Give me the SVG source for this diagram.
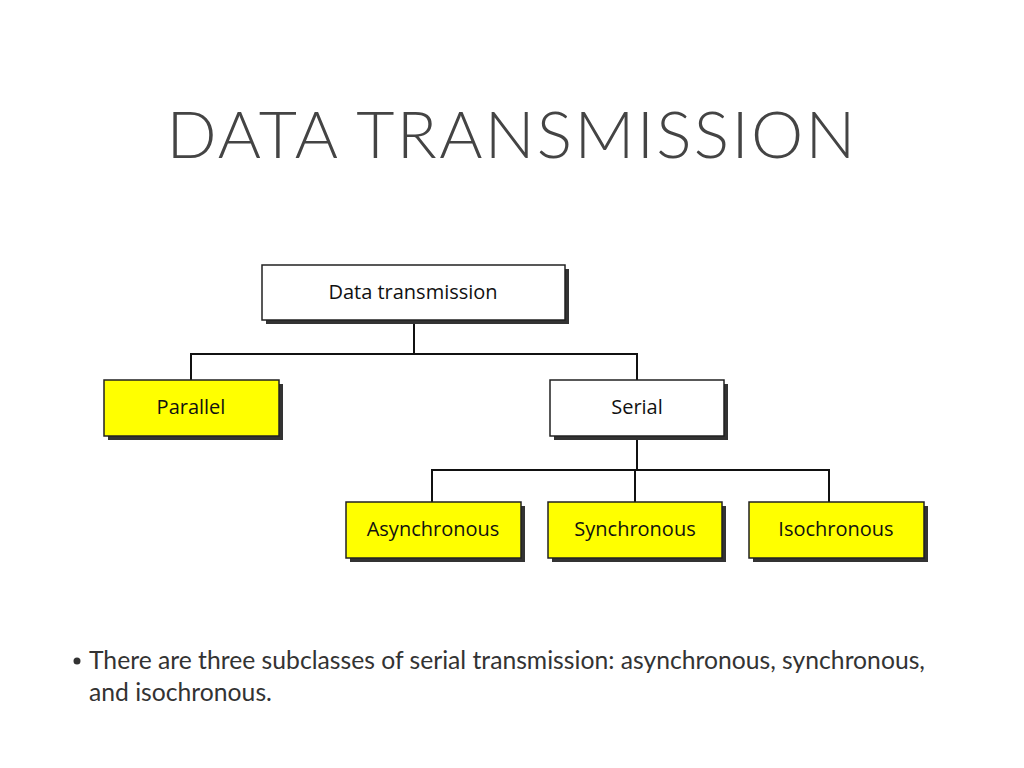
<svg xmlns="http://www.w3.org/2000/svg" width="1024" height="768" viewBox="0 0 1024 768">
<defs><style>
.sh{fill:#333}
.b{stroke:#222;stroke-width:1.5}
.w{fill:#fff}.y{fill:#ffff00}
.t{font-family:"Open Sans","DejaVu Sans",sans-serif;font-size:20px;fill:#111;text-anchor:middle}
.c{stroke:#111;stroke-width:2;fill:none}
</style></defs>
<rect width="1024" height="768" fill="#fff"/>
<text x="512" y="158" font-family="Lato,'Liberation Sans',sans-serif" font-size="66" fill="#444" text-anchor="middle" font-weight="300" letter-spacing="2.3">DATA TRANSMISSION</text>
<g id="connectors">
<path class="c" d="M414 320V354M191 380V354H637V380M637 436V470M432 502V470H829V502M635 470V502"/>
</g>
<g id="n-data"><rect class="sh" x="266" y="269" width="303" height="55"/><rect class="b w" x="262" y="265" width="303" height="55"/><text class="t" x="413" y="299">Data transmission</text></g>
<g id="n-parallel"><rect class="sh" x="108" y="384" width="175" height="56"/><rect class="b y" x="104" y="380" width="175" height="56"/><text class="t" x="191" y="414">Parallel</text></g>
<g id="n-serial"><rect class="sh" x="554" y="384" width="174" height="56"/><rect class="b w" x="550" y="380" width="174" height="56"/><text class="t" x="637" y="414">Serial</text></g>
<g id="n-async"><rect class="sh" x="350" y="506" width="175" height="56"/><rect class="b y" x="346" y="502" width="175" height="56"/><text class="t" x="433" y="536">Asynchronous</text></g>
<g id="n-sync"><rect class="sh" x="552" y="506" width="174" height="56"/><rect class="b y" x="548" y="502" width="174" height="56"/><text class="t" x="635" y="536">Synchronous</text></g>
<g id="n-iso"><rect class="sh" x="753" y="506" width="175" height="56"/><rect class="b y" x="749" y="502" width="175" height="56"/><text class="t" x="836" y="536">Isochronous</text></g>
<g font-family="Lato,'Liberation Sans',sans-serif" font-size="24.7" fill="#333">
<circle cx="77" cy="661" r="3.5" fill="#333"/>
<text x="89" y="669">There are three subclasses of serial transmission: asynchronous, synchronous,</text>
<text x="89" y="701">and isochronous.</text>
</g>
</svg>
